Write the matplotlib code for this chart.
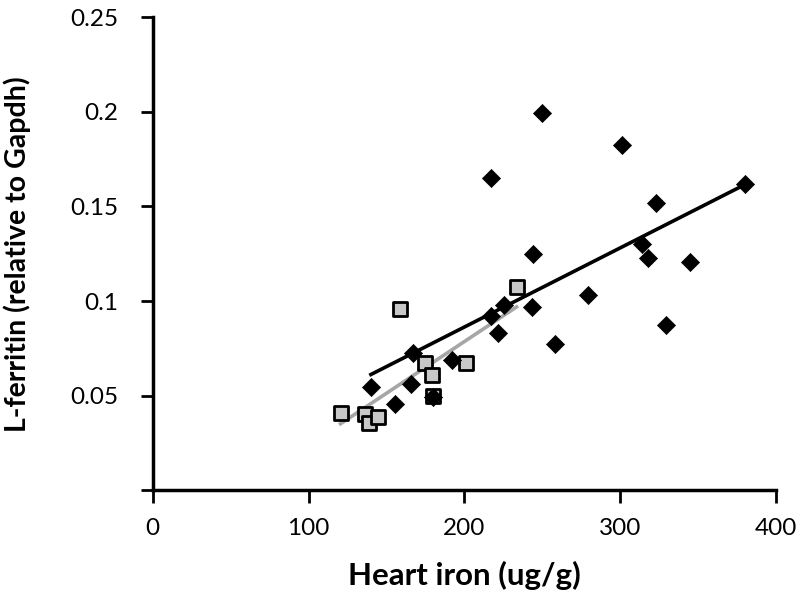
import numpy as np
import matplotlib
matplotlib.use('Agg')
import matplotlib.pyplot as plt

plt.rcParams['font.family'] = ['Lato', 'DejaVu Sans']

# Black diamonds (group 1)
iron_a = [140.0, 155.6, 165.5, 166.7, 191.8, 180.0, 216.8, 221.7, 225.6, 217.0,
          249.6, 244.2, 243.1, 258.1, 279.5, 301.1, 314.2, 318.0, 322.8, 344.8,
          329.2, 380.1]
ferr_a = [0.0547, 0.0458, 0.0562, 0.0728, 0.0688, 0.0495, 0.0921, 0.0830, 0.0977, 0.1649,
          0.1996, 0.1249, 0.0968, 0.0772, 0.1032, 0.1825, 0.1302, 0.1225, 0.1519, 0.1205,
          0.0872, 0.1617]

# Grey squares (group 2)
iron_b = [120.5, 136.1, 138.9, 144.7, 158.6, 174.6, 179.3, 180.0, 201.0, 233.5]
ferr_b = [0.0409, 0.0404, 0.0356, 0.0386, 0.0960, 0.0672, 0.0609, 0.0496, 0.0675, 0.1075]

x_ticks = [0, 100, 200, 300, 400]
y_ticks = [0, 0.05, 0.1, 0.15, 0.2, 0.25]
y_labels = ['', '0.05', '0.1', '0.15', '0.2', '0.25']

fig = plt.figure(figsize=(8, 5.95), dpi=100)
ax = fig.add_axes([0.191, 0.176, 0.779, 0.795])

# linear trend lines over each group's range
for xs, ys, col in [(iron_a, ferr_a, 'black'), (iron_b, ferr_b, '#a6a6a6')]:
    k, b = np.polyfit(xs, ys, 1)
    xx = np.array([min(xs), max(xs)])
    ax.plot(xx, k * xx + b, color=col, lw=2.6, zorder=2)

ax.scatter(iron_b, ferr_b, marker='s', s=110, facecolor='#c8c8c8',
           edgecolor='black', linewidths=2, zorder=3)
ax.scatter(iron_a, ferr_a, marker='D', s=85, facecolor='black',
           edgecolor='black', linewidths=0.5, zorder=4)

ax.set_xlim(0, 400)
ax.set_ylim(0, 0.25)
ax.set_xticks(x_ticks)
ax.set_yticks(y_ticks)
ax.set_yticklabels(y_labels)
ax.tick_params(axis='both', labelsize=17.5, width=2, length=9, direction='out', color='black')
ax.tick_params(axis='x', pad=11)
ax.tick_params(axis='y', pad=16)

for side in ['top', 'right']:
    ax.spines[side].set_visible(False)
for side in ['left', 'bottom']:
    ax.spines[side].set_linewidth(2.5)

ax.set_xlabel('Heart iron (ug/g)', fontsize=22.5, fontweight='bold', labelpad=16)
ax.set_ylabel('L-ferritin (relative to Gapdh)', fontsize=20.5, fontweight='bold', labelpad=28)

fig.savefig('out.png', dpi=100)
